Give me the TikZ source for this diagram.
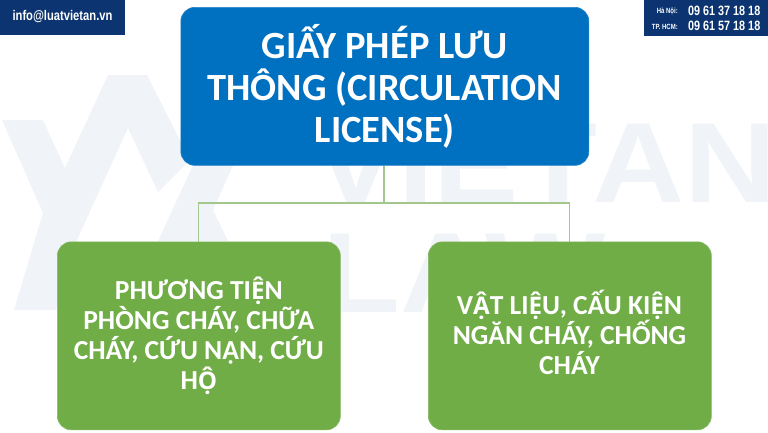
\documentclass[tikz,border=0pt]{standalone}
\usepackage{fontspec}
\setmainfont{Carlito}
\newfontfamily\vietfont[Scale=0.88]{Open Sans}
\newcommand{\vl}[1]{{\vietfont\bfseries #1}}
\newfontfamily\wmfont[FakeStretch=1.12]{Liberation Sans}
\newfontfamily\bandfont[FakeStretch=.8]{Liberation Sans}
\definecolor{navy}{HTML}{0B3470}
\definecolor{boxblue}{HTML}{0070C0}
\definecolor{boxgreen}{HTML}{70AD47}
\definecolor{linkgreen}{HTML}{A2C78C}
\definecolor{wm}{HTML}{F0F3F7}
\tikzset{
  mainbox/.style={rounded corners=14pt,draw=#1!85!white,fill=#1,line width=.7pt,text=white,font=\bfseries,align=center,anchor=north west,inner sep=0pt},
  link/.style={draw=linkgreen,line width=1.2pt},
  wmtext/.style={text=wm,font=\wmfont\bfseries\fontsize{114}{114}\selectfont,inner sep=0pt,anchor=base west},
  band/.style={fill=navy,draw=none,inner sep=0pt,text=white,anchor=north west},
  smalllabel/.style={text=white,font=\bandfont\bfseries\fontsize{7.5}{8}\selectfont,anchor=east,inner sep=0pt},
  phonenum/.style={text=white,font=\bandfont\bfseries\fontsize{13.5}{14}\selectfont,anchor=west,inner sep=0pt}
}
\begin{document}
\begin{tikzpicture}[x=1pt,y=-1pt]
\useasboundingbox (0,0) rectangle (768,432);
% watermark
\fill[wm] (2,120) -- (43,120) -- (65,168) -- (108,75) -- (147,75) -- (190,160) -- (158,192) -- (128,128) -- (77,240) -- (56,310) -- (14,310) -- (43,213) -- cycle;
\fill[wm] (158,241) -- (200,150) -- (240,150) -- (213,210) -- (228,241) -- cycle;
\node[wmtext] (wmviet) at (313,202) {VIET};
\node[wmtext] (wman) at (592,202) {AN};
\node[wmtext] (wmlaw) at (322,312) {LAW};
% boxes
\node[mainbox=boxblue,minimum width=408pt,minimum height=158pt,font=\bfseries\fontsize{38.5}{42}\selectfont] (top) at (180.5,7) {GIẤY PHÉP LƯU\\THÔNG (CIRCULATION\\LICENSE)};
\node[mainbox=boxgreen,minimum width=283pt,minimum height=188pt,font=\bfseries\fontsize{27.5}{30}\selectfont] (left) at (57,241.5) {PHƯƠNG TI\vl{Ệ}N\\PHÒNG CHÁY, CHỮA\\CHÁY, CỨU NẠN, CỨU\\H\vl{Ộ}};
\node[mainbox=boxgreen,minimum width=283pt,minimum height=188pt] (right) at (428,241.5) {};
\node[text=white,font=\bfseries\fontsize{27.5}{30}\selectfont,align=center,inner sep=0pt] (righttext) at (569.5,332) {V\vl{Ậ}T LI\vl{Ệ}U, CẤU KI\vl{Ệ}N\\NGĂN CHÁY, CHỐNG\\CHÁY};
% connectors
\coordinate (mid) at (384,203);
\draw[link] (top.south -| mid) -- (mid);
\draw[link] (left.north) |- (mid) -| (right.north);
% header bands
\node[band,minimum width=125pt,minimum height=35pt] (mail) at (0,0) {};
\node[text=white,font=\bandfont\bfseries\fontsize{14}{14}\selectfont,inner sep=0pt] (mailtext) at (62.5,17) {info@luatvietan.vn};
\node[band,minimum width=124pt,minimum height=36pt] (phone) at (644,0) {};
\node[smalllabel] (hn) at (678,11) {Hà Nội:};
\node[smalllabel] (hcm) at (678,26.5) {TP. HCM:};
\node[phonenum] (n1) at (688,11) {09 61 37 18 18};
\node[phonenum] (n2) at (688,26) {09 61 57 18 18};
\end{tikzpicture}
\end{document}
